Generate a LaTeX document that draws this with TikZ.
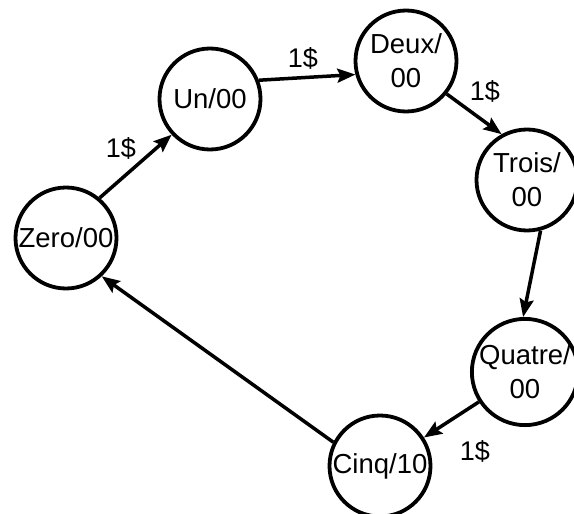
\documentclass[tikz,border=0pt]{standalone}
\usepackage{fontspec}
\setmainfont{Liberation Sans}
\usetikzlibrary{arrows.meta}

\tikzset{
  state/.style={circle, draw=black, line width=3.8pt, minimum size=101pt,
    inner sep=0pt, align=center, font=\fontsize{27.5}{34}\selectfont},
  trans/.style={line width=3.5pt, -{Stealth[length=18pt, width=14pt, inset=3pt]}},
  price/.style={inner sep=0pt, font=\fontsize{27}{30}\selectfont}
}

\begin{document}
\begin{tikzpicture}[x=1pt, y=-1pt]
  \useasboundingbox (0,0) rectangle (574,514);

  % states of the vending machine
  \node[state] (zero)   at (66,238)  {Zero/00};
  \node[state] (un)     at (210,99)  {Un/00};
  \node[state] (deux)   at (406,61)  {Deux/\\00};
  \node[state] (trois)  at (527,180) {Trois/\\00};
  \node[state] (quatre) at (525,372) {Quatre/\\00};
  \node[state] (cinq)   at (380,466) {Cinq/10};

  % transitions
  \draw[trans] (zero.50)   -- (un.223);
  \draw[trans] (un.21)     -- (deux.195);
  \draw[trans] (deux.-39)  -- (trois.119);
  \draw[trans] (trois.-75) -- (quatre.92);
  \draw[trans] (quatre)    -- (cinq);
  \draw[trans] (cinq.153)  -- (zero.-47);

  % coin labels
  \node[price] (p1) at (121,148) {1\$};
  \node[price] (p2) at (303,58)  {1\$};
  \node[price] (p3) at (485,91)  {1\$};
  \node[price] (p4) at (475,451) {1\$};
\end{tikzpicture}
\end{document}
